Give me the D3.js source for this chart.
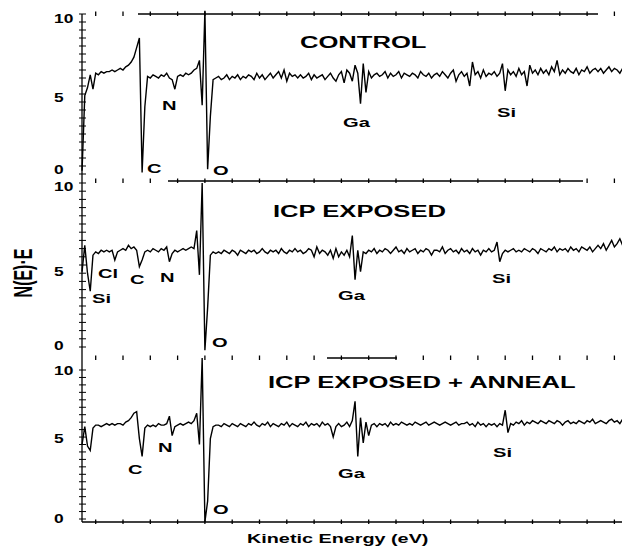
<!DOCTYPE html>
<html>
<head>
<meta charset="utf-8">
<script src="https://cdn.jsdelivr.net/npm/d3@7/dist/d3.min.js"></script>
<style>
  html, body { margin: 0; padding: 0; background: #fff; }
  svg { display: block; }
  text { font-family: "Liberation Sans", Arial, sans-serif; font-weight: bold; fill: #000; }
</style>
</head>
<body>
<svg id="chart" width="622" height="548"></svg>
<script>
// ---------- DATA ----------
// Kinetic energy grid (eV) on which the spectra were read, every 10 eV from 50 eV
const energyStart = 50, energyStep = 10;
const panelTitles = ["CONTROL", "ICP EXPOSED", "ICP EXPOSED + ANNEAL"];
const yTickLabels = [0, 5, 10];
const xTickEnergies = d3.range(100, 2001, 100);

// N(E)·E, panel 1: CONTROL
const control = [
0.2,4.9,5.4,6.2,5.3,6.3,6.2,6.4,6.3,6.4,
6.4,6.5,6.4,6.5,6.6,6.5,6.7,6.8,7.0,7.3,
7.9,8.5,0.1,4.2,6.1,6.0,6.2,6.1,6.0,6.2,
6.1,6.3,6.0,5.9,5.3,6.1,6.2,6.1,6.3,6.2,
6.3,6.5,6.6,7.1,4.3,10.2,0.3,3.6,5.9,6.0,
6.1,5.9,6.0,6.2,5.9,6.1,6.0,6.2,5.9,6.1,
6.0,6.2,6.1,5.9,6.3,6.0,6.2,5.9,6.1,6.3,
6.0,6.2,6.4,6.0,6.5,5.8,6.3,6.1,6.2,6.0,
6.2,6.0,6.1,6.3,5.9,6.2,6.0,6.1,6.2,5.9,
6.1,6.3,6.0,5.8,6.2,6.4,5.7,6.5,6.3,5.8,
6.8,6.3,4.4,6.9,5.1,6.4,6.0,6.2,6.3,6.1,
6.2,6.4,6.0,6.3,6.1,6.2,6.4,6.0,6.3,6.2,
6.1,6.3,6.2,6.0,6.4,6.2,6.1,6.3,6.0,6.2,
6.3,6.1,6.4,6.2,6.0,6.3,6.5,5.8,6.2,6.4,
6.1,6.3,5.5,7.0,6.2,6.4,6.0,6.5,6.1,6.3,
6.2,6.4,6.1,6.3,6.9,5.2,6.5,6.2,6.4,6.1,
6.6,6.2,6.4,5.5,6.8,6.3,6.5,6.2,6.6,6.3,
6.5,6.2,6.7,6.4,7.1,6.2,6.5,6.3,6.6,6.4,
6.3,6.6,6.2,6.5,6.4,6.7,6.3,6.5,6.6,6.4,
6.6,6.3,6.5,6.7,6.4,6.6,6.5,6.3,6.6,6.5
];

// N(E)·E, panel 2: ICP EXPOSED
const icpExposed = [
4.6,6.2,4.5,3.4,5.6,5.8,5.7,5.9,5.8,5.9,
5.8,5.9,5.3,5.8,5.9,6.0,5.9,6.2,6.0,6.1,
5.9,4.9,5.3,5.8,5.9,5.8,6.0,5.9,5.8,6.0,
5.9,6.1,5.2,5.7,5.9,5.8,5.9,6.0,5.9,6.0,
6.1,6.0,7.1,4.4,10.0,-0.2,2.4,5.6,5.8,5.7,
5.8,5.7,5.9,5.8,5.7,5.9,5.8,5.6,5.9,5.8,
5.7,5.9,5.8,5.9,5.7,5.8,6.0,5.8,5.7,5.9,
5.8,5.9,5.7,6.0,5.8,5.7,5.9,5.8,6.0,5.8,
5.9,5.7,5.8,6.0,5.9,5.5,6.1,5.7,5.9,5.8,
5.6,5.9,5.4,6.0,5.5,5.8,5.6,5.9,5.5,6.8,
4.1,5.9,4.6,5.8,5.7,5.9,5.8,6.0,5.7,5.9,
5.8,6.0,5.9,5.7,5.9,6.1,5.8,5.9,5.7,6.0,
5.8,5.9,6.0,5.7,5.9,5.8,6.0,5.9,5.6,5.9,
5.9,5.8,6.1,5.7,5.9,6.0,5.8,5.9,5.7,6.0,
5.8,5.9,5.7,6.0,5.8,5.9,5.6,5.9,5.8,6.0,
5.8,5.9,6.4,5.2,5.7,5.9,5.8,5.9,6.0,5.8,
5.9,5.8,6.0,5.9,5.8,6.0,5.9,5.7,6.0,5.9,
5.8,6.0,5.9,6.1,5.8,6.0,5.9,6.0,5.8,6.1,
5.9,6.0,5.8,6.1,6.0,5.9,6.1,5.8,6.0,6.2,
6.0,6.3,5.9,6.2,6.5,6.1,6.3,6.6,6.2,6.4
];

// N(E)·E, panel 3: ICP EXPOSED + ANNEAL
const icpAnneal = [
5.0,6.2,4.9,4.6,6.1,6.3,6.3,6.2,6.3,6.4,
6.3,6.4,6.3,6.4,6.4,6.3,6.5,6.6,6.8,7.1,
7.2,5.4,4.2,6.1,6.3,6.2,6.3,6.2,6.4,6.3,
6.3,6.4,6.9,5.6,6.2,6.3,6.4,6.3,6.4,6.5,
6.4,6.6,7.1,5.0,10.8,-0.2,1.2,5.4,6.2,6.3,
6.3,6.2,6.4,6.3,6.2,6.4,6.3,6.2,6.4,6.3,
6.2,6.4,6.3,6.5,6.3,6.2,6.4,6.3,6.5,6.2,
6.4,6.3,6.2,6.4,6.3,6.5,6.2,6.4,6.3,6.2,
6.4,6.3,6.5,6.2,6.4,6.3,6.4,6.2,6.5,6.3,
6.4,6.2,5.5,6.2,6.4,6.2,6.3,6.5,6.2,6.6,
7.9,4.2,6.8,5.1,6.5,5.6,6.3,6.4,6.2,6.4,
6.3,6.4,6.2,6.5,6.3,6.4,6.3,6.5,6.4,6.3,
6.4,6.3,6.5,6.4,6.3,6.4,6.5,6.3,6.4,6.5,
6.4,6.3,6.4,6.5,6.4,6.3,6.4,6.5,6.3,6.4,
6.4,6.5,6.3,6.4,6.2,6.5,6.3,6.4,6.2,6.4,
6.3,6.4,6.2,6.4,6.3,7.3,5.8,6.4,6.3,6.5,
6.4,6.6,6.3,6.5,6.4,6.6,6.5,6.4,6.6,6.5,
6.4,6.6,6.5,6.4,6.6,6.5,6.3,6.5,6.6,6.4,
6.5,6.4,6.6,6.5,6.4,6.6,6.5,6.7,6.4,6.5,
6.6,6.5,6.4,6.6,6.7,6.5,6.6,6.4,6.7,6.6
];

// Peak labels per panel
const peakLabels1 = ["C", "N", "O", "Ga", "Si"];
const peakLabels2 = ["Si", "Cl", "C", "N", "O", "Ga", "Si"];
const peakLabels3 = ["C", "N", "O", "Ga", "Si"];

// ---------- LAYOUT (positions only) ----------
const layout = [
  { values: control,    y0: 174, y10: 14,  top: 14,  bottom: 181, title: [300, 48],
    tickLabelY: [169, 97, 18],
    labels: [[147,173],[162,110],[213,175],[343,127],[497,117]] },
  { values: icpExposed, y0: 347, y10: 183, top: 181, bottom: 358, title: [273, 217],
    tickLabelY: [345, 271, 186],
    labels: [[92,303],[98,278],[130,284],[160,282],[212,347],[338,300],[492,283]] },
  { values: icpAnneal,  y0: 519, y10: 370, top: 358, bottom: 522, title: [268, 388],
    tickLabelY: [518, 438, 370],
    labels: [[128,474],[158,452],[213,514],[338,478],[493,457]] }
];
const peakLabelSets = [peakLabels1, peakLabels2, peakLabels3];
// horizontal frame segments at panel boundaries
const frameLines = [
  { y: 14,  x1: 138, x2: 598 },
  { y: 181, x1: 168, x2: 583 },
  { y: 358, x1: 327, x2: 397 },
  { y: 522, x1: 82,  x2: 622 }
];
const axisX = 82;

// ---------- DRAW ----------
const svg = d3.select("#chart");
svg.append("rect").attr("width", 622).attr("height", 548).attr("fill", "#fff");

const x = d3.scaleLinear().domain([0, 2000]).range([68.4, 614.4]);

function label(g, str, px, py, size, sx, anchor) {
  return g.append("text")
    .attr("transform", `translate(${px},${py}) scale(${sx},1)`)
    .attr("font-size", size)
    .attr("text-anchor", anchor || "start")
    .text(str);
}

// frame lines + x ticks
frameLines.forEach(f => {
  svg.append("line").attr("x1", f.x1).attr("x2", f.x2).attr("y1", f.y).attr("y2", f.y)
    .attr("stroke", "#000").attr("stroke-width", 1.3);
  svg.selectAll(null).data(xTickEnergies).enter().append("line")
    .attr("x1", d => x(d)).attr("x2", d => x(d))
    .attr("y1", f.y - 2.5).attr("y2", f.y + 2)
    .attr("stroke", "#000").attr("stroke-width", 1.3);
});

layout.forEach((p, i) => {
  const g = svg.append("g");
  const y = d3.scaleLinear().domain([0, 10]).range([p.y0, p.y10]);

  // y axis line
  g.append("line").attr("x1", axisX).attr("x2", axisX).attr("y1", p.top).attr("y2", p.bottom)
    .attr("stroke", "#000").attr("stroke-width", 1.3);
  // minor/major ticks crossing the axis
  g.selectAll(null).data(d3.range(0, 10.01, 0.5)).enter().append("line")
    .attr("x1", axisX - 3).attr("x2", axisX + 4)
    .attr("y1", d => y(d)).attr("y2", d => y(d))
    .attr("stroke", "#000").attr("stroke-width", 1);
  // tick labels
  yTickLabels.forEach((v, k) => {
    label(g, String(v), 54, p.tickLabelY[k] + 4.5, 12, 1.45, "start");
  });

  // spectrum
  const line = d3.line()
    .x((d, j) => x(energyStart + j * energyStep))
    .y(d => y(d));
  g.append("path").datum(p.values)
    .attr("d", line)
    .attr("fill", "none").attr("stroke", "#000")
    .attr("stroke-width", 1.4).attr("stroke-linejoin", "miter");

  // title
  label(g, panelTitles[i], p.title[0], p.title[1], 16, 1.6, "start");
  // peak labels
  peakLabelSets[i].forEach((t, k) => {
    label(g, t, p.labels[k][0], p.labels[k][1], 13, 1.55, "start");
  });
});

// axis titles
label(svg, "Kinetic Energy (eV)", 247, 543, 12, 1.65, "start");
svg.append("text")
  .attr("transform", "translate(32,273) scale(1.6,1) rotate(-90)")
  .attr("font-size", 16).attr("font-weight", "normal")
  .attr("text-anchor", "middle")
  .text("N(E)·E");
</script>
</body>
</html>
